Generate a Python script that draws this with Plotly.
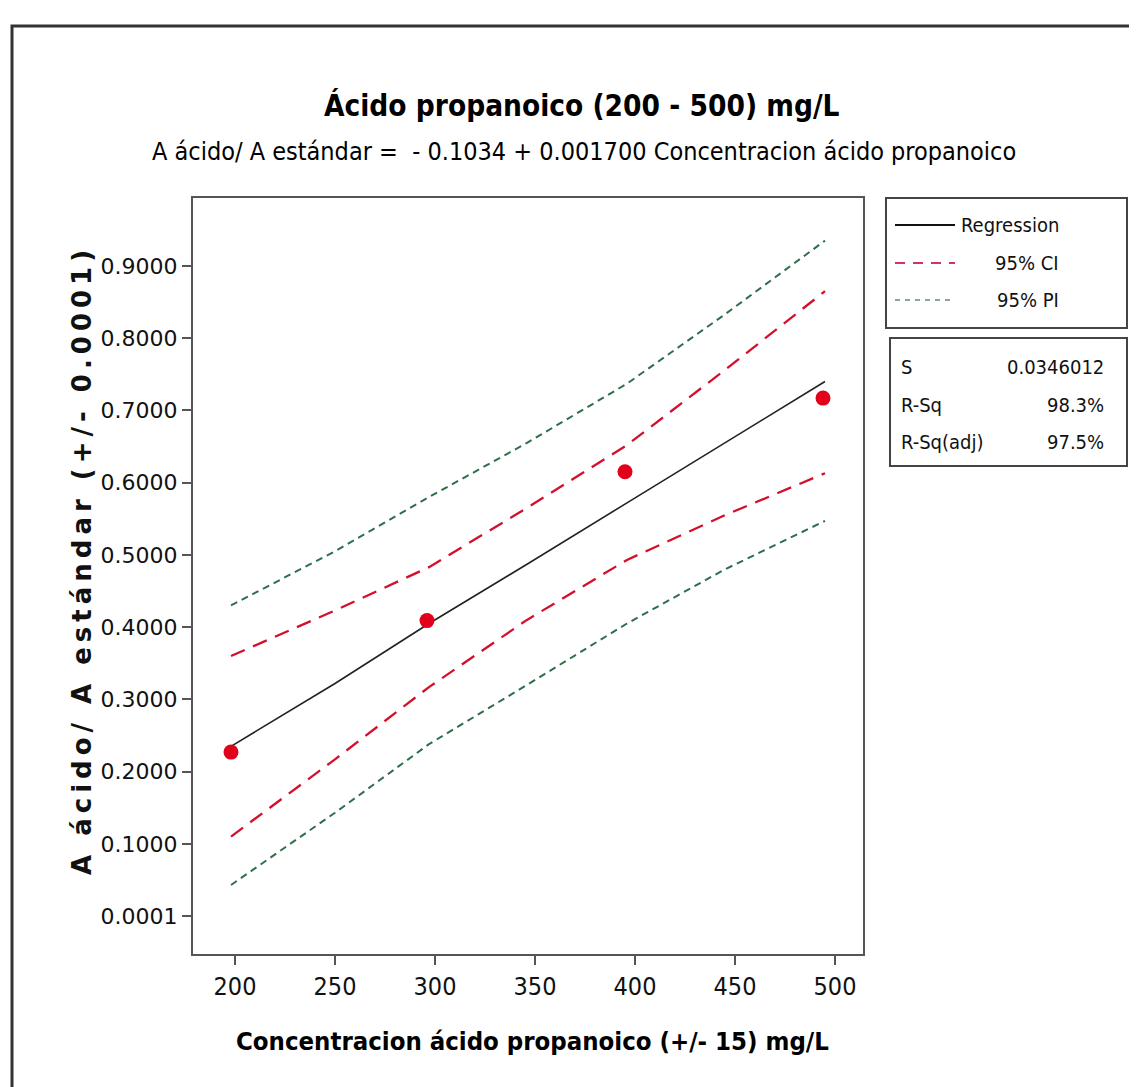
import plotly.graph_objects as go

# ---- data ----
conc_points = [198, 296, 395, 494]
ratio_points = [0.227, 0.409, 0.615, 0.717]

band_x = [198, 250, 297, 346, 396, 445, 495]
fit_y = [0.235, 0.322, 0.405, 0.487, 0.572, 0.655, 0.740]
ci_upper = [0.360, 0.423, 0.483, 0.565, 0.652, 0.756, 0.865]
ci_lower = [0.110, 0.217, 0.317, 0.410, 0.493, 0.555, 0.613]
pi_upper = [0.430, 0.505, 0.580, 0.655, 0.737, 0.833, 0.935]
pi_lower = [0.043, 0.143, 0.238, 0.320, 0.405, 0.480, 0.547]

y_tickvals = [0.0001, 0.1, 0.2, 0.3, 0.4, 0.5, 0.6, 0.7, 0.8, 0.9]
y_ticktext = ["0.0001", "0.1000", "0.2000", "0.3000", "0.4000", "0.5000",
              "0.6000", "0.7000", "0.8000", "0.9000"]
x_tickvals = [200, 250, 300, 350, 400, 450, 500]

legend_labels = ["Regression", "95% CI", "95% PI"]
stats_labels = ["S", "R-Sq", "R-Sq(adj)"]
stats_values = ["0.0346012", "98.3%", "97.5%"]

title_text = "Ácido propanoico (200 - 500) mg/L"
subtitle_text = "A ácido/ A estándar =  - 0.1034 + 0.001700 Concentracion ácido propanoico"
x_title = "Concentracion ácido propanoico (+/- 15) mg/L"
y_title = "A ácido/ A estándar (+/- 0.0001)"

# ---- styling ----
W, H = 1137, 1087
L, R, T, B = 185, 855, 190, 946
NARROW = "Liberation Sans Narrow, DejaVu Sans Condensed, Arial Narrow, sans-serif"
VERD = "DejaVu Sans, Verdana, sans-serif"
RED = "#d3102c"
GREEN = "#2f6e4c"
PT_RED = "#e3001b"
AXC = "#555555"


def px(xp):
    return (xp - L) / (R - L)


def py(yp):
    return (B - yp) / (B - T)


fig = go.Figure()
fig.add_trace(go.Scatter(x=band_x, y=pi_upper, mode="lines",
                         line=dict(color=GREEN, width=2, dash="7px,5px"), showlegend=False))
fig.add_trace(go.Scatter(x=band_x, y=pi_lower, mode="lines",
                         line=dict(color=GREEN, width=2, dash="7px,5px"), showlegend=False))
fig.add_trace(go.Scatter(x=band_x, y=ci_upper, mode="lines",
                         line=dict(color=RED, width=2.3, dash="15px,9px"), showlegend=False))
fig.add_trace(go.Scatter(x=band_x, y=ci_lower, mode="lines",
                         line=dict(color=RED, width=2.3, dash="15px,9px"), showlegend=False))
fig.add_trace(go.Scatter(x=band_x, y=fit_y, mode="lines",
                         line=dict(color="#222222", width=1.6), showlegend=False))
fig.add_trace(go.Scatter(x=conc_points, y=ratio_points, mode="markers",
                         marker=dict(color=PT_RED, size=15), showlegend=False))

shapes = []
annotations = []

# outer frame
shapes.append(dict(type="rect", xref="paper", yref="paper",
                   x0=px(4), x1=px(1134), y0=py(1100), y1=py(18),
                   line=dict(color="#333333", width=3)))

# legend box
shapes.append(dict(type="rect", xref="paper", yref="paper",
                   x0=px(878), x1=px(1119), y0=py(320), y1=py(190),
                   line=dict(color="#444444", width=2)))
legend_styles = [dict(color="#111111", width=2),
                 dict(color="#d8306a", width=2, dash="10px,8px"),
                 dict(color="#8aa898", width=2, dash="5px,5px")]
legend_y = [217, 255, 292]
for lab, sty, ly in zip(legend_labels, legend_styles, legend_y):
    shapes.append(dict(type="line", xref="paper", yref="paper",
                       x0=px(887), x1=px(947), y0=py(ly), y1=py(ly), line=sty))
    annotations.append(dict(text=lab, xref="paper", yref="paper",
                            x=px(1053), y=py(ly), xanchor="right", yanchor="middle",
                            showarrow=False, font=dict(family=NARROW, size=20, color="#111111")))

# stats box
shapes.append(dict(type="rect", xref="paper", yref="paper",
                   x0=px(882), x1=px(1119), y0=py(458), y1=py(330),
                   line=dict(color="#444444", width=2)))
stats_y = [359, 397, 434]
for lab, val, sy in zip(stats_labels, stats_values, stats_y):
    annotations.append(dict(text=lab, xref="paper", yref="paper",
                            x=px(891), y=py(sy), xanchor="left", yanchor="middle",
                            showarrow=False, font=dict(family=NARROW, size=20, color="#111111")))
    annotations.append(dict(text=val, xref="paper", yref="paper",
                            x=px(1098), y=py(sy), xanchor="right", yanchor="middle",
                            showarrow=False, font=dict(family=NARROW, size=20, color="#111111")))

# titles
annotations.append(dict(text="<b>" + title_text + "</b>", xref="paper", yref="paper",
                        x=px(574), y=py(97), xanchor="center", yanchor="middle",
                        showarrow=False, font=dict(family=NARROW, size=29.5, color="#000000")))
annotations.append(dict(text=subtitle_text, xref="paper", yref="paper",
                        x=px(576), y=py(143), xanchor="center", yanchor="middle",
                        showarrow=False, font=dict(family=NARROW, size=25, color="#000000")))
annotations.append(dict(text="<b>" + x_title + "</b>", xref="paper", yref="paper",
                        x=px(524), y=py(1033), xanchor="center", yanchor="middle",
                        showarrow=False, font=dict(family=NARROW, size=25.5, color="#000000")))
annotations.append(dict(text='<span style="letter-spacing:5px"><b>' + y_title + "</b></span>",
                        xref="paper", yref="paper",
                        x=px(74), y=py(552), xanchor="center", yanchor="middle", textangle=-90,
                        showarrow=False, font=dict(family=VERD, size=26, color="#111111")))

fig.update_layout(
    width=W, height=H,
    margin=dict(l=L, r=W - R, t=T, b=H - B, pad=0),
    paper_bgcolor="white", plot_bgcolor="white",
    shapes=shapes, annotations=annotations,
    showlegend=False,
)
fig.update_xaxes(range=[179, 514], tickvals=x_tickvals, ticks="outside", ticklen=9,
                 tickwidth=2, tickcolor=AXC, showline=True, linecolor=AXC, linewidth=2,
                 mirror=True, showgrid=False, zeroline=False,
                 tickfont=dict(family=NARROW, size=25, color="#111111"))
fig.update_yaxes(range=[-0.0525, 0.994], tickvals=y_tickvals, ticktext=y_ticktext,
                 ticks="outside", ticklen=9, tickwidth=2, tickcolor=AXC, showline=True,
                 linecolor=AXC, linewidth=2, mirror=True, showgrid=False, zeroline=False,
                 tickfont=dict(family=VERD, size=22, color="#111111"))

fig.write_html("out.html")
